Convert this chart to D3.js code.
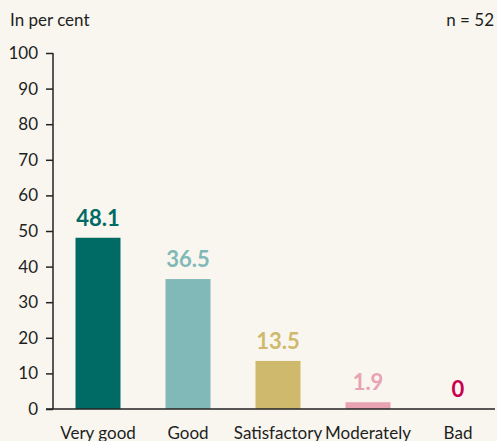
<!DOCTYPE html>
<html>
<head>
<meta charset="utf-8">
<script src="https://cdn.jsdelivr.net/npm/d3@7"></script>
<style>
  body { margin: 0; background: #f9f6ef; }
  svg { display: block; font-family: Lato, "Open Sans", sans-serif; }
</style>
</head>
<body>
<div id="chart"></div>
<script>
var categories = ["Very good", "Good", "Satisfactory", "Moderately", "Bad"];
var values = [48.1, 36.5, 13.5, 1.9, 0];
var colors = ["#006b64", "#80b9b7", "#cfb96d", "#e8a3b3", "#c8004f"];
var yTicks = [0, 10, 20, 30, 40, 50, 60, 70, 80, 90, 100];

var width = 497, height = 441;

var svg = d3.select("#chart").append("svg").attr("width", width).attr("height", height);
svg.append("rect").attr("width", width).attr("height", height).attr("fill", "#f9f6ef");

var x = d3.scaleBand().domain(categories).range([53, 503]).paddingInner(0.5).paddingOuter(0.25);
var y = d3.scaleLinear().domain([0, 100]).range([409, 53]);

// y axis
var yAxis = svg.append("g").attr("transform", "translate(53,0)")
    .call(d3.axisLeft(y).tickValues(yTicks).tickSize(7).tickPadding(8));
yAxis.select(".domain").remove();
yAxis.selectAll("line").attr("stroke", "#222").attr("stroke-width", 1.5);
yAxis.selectAll("text").attr("font-size", 17).attr("fill", "#1e1e1e").attr("font-family", "Lato");
svg.append("line").attr("x1", 53).attr("x2", 53).attr("y1", y(100)).attr("y2", y(0))
    .attr("stroke", "#222").attr("stroke-width", 1.5);

// bars
svg.selectAll(".bar").data(values).enter().append("rect")
    .attr("x", function(d, i) { return x(categories[i]); })
    .attr("y", function(d) { return y(d); })
    .attr("width", x.bandwidth())
    .attr("height", function(d) { return y(0) - y(d); })
    .attr("fill", function(d, i) { return colors[i]; });

// baseline
svg.append("line").attr("x1", 46).attr("x2", 495).attr("y1", y(0)).attr("y2", y(0))
    .attr("stroke", "#222").attr("stroke-width", 1.5);

// value labels
svg.selectAll(".val").data(values).enter().append("text")
    .attr("x", function(d, i) { return x(categories[i]) + x.bandwidth() / 2; })
    .attr("y", function(d) { return y(d) - 12; })
    .attr("text-anchor", "middle")
    .attr("font-size", 22).attr("font-weight", "bold")
    .attr("fill", function(d, i) { return colors[i]; })
    .text(function(d) { return d; });

// category labels
svg.selectAll(".cat").data(categories).enter().append("text")
    .attr("x", function(d) { return x(d) + x.bandwidth() / 2; })
    .attr("y", 439)
    .attr("text-anchor", "middle")
    .attr("font-size", 17).attr("fill", "#1e1e1e")
    .text(function(d) { return d; });

svg.append("text").attr("x", 10).attr("y", 26).attr("font-size", 17).attr("fill", "#1e1e1e").text("In per cent");
svg.append("text").attr("x", 494).attr("y", 26).attr("text-anchor", "end").attr("font-size", 17).attr("fill", "#1e1e1e").text("n = 52");
</script>
</body>
</html>
